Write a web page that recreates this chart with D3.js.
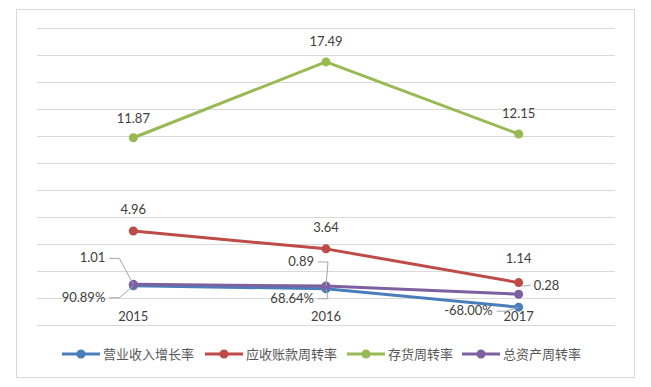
<!DOCTYPE html>
<html>
<head>
<meta charset="utf-8">
<script src="https://cdn.jsdelivr.net/npm/d3@7"></script>
<style>
  body { margin: 0; background: #fff; }
  svg text { font-family: Lato, "Noto Sans", sans-serif; fill: #404040; }
  .legend text { font-family: "Noto Sans CJK SC", sans-serif; fill: #595959; }
</style>
</head>
<body>
<div id="chart"></div>
<script>
// chart data
let years = ["2015", "2016", "2017"];
let seriesNames = ["营业收入增长率", "应收账款周转率", "存货周转率", "总资产周转率"];
let revenueGrowth = [0.9089, 0.6864, -0.68];
let receivableTurnover = [4.96, 3.64, 1.14];
let inventoryTurnover = [11.87, 17.49, 12.15];
let assetTurnover = [1.01, 0.89, 0.28];
let valueLabels = [
    ["90.89%", "68.64%", "-68.00%"],
    ["4.96", "3.64", "1.14"],
    ["11.87", "17.49", "12.15"],
    ["1.01", "0.89", "0.28"]
];
let yTicks = d3.range(-2, 21, 2);

let colors = ["#4a7ebb", "#be4b48", "#98b954", "#7d60a0"];
let allSeries = [revenueGrowth, receivableTurnover, inventoryTurnover, assetTurnover];

let width = 651, height = 387;
let svg = d3.select("#chart").append("svg")
    .attr("width", width)
    .attr("height", height);

// outer frame
svg.append("rect")
    .attr("x", 16.5).attr("y", 9.5)
    .attr("width", 618).attr("height", 368)
    .attr("fill", "#fff")
    .attr("stroke", "#d9d9d9");

let x = d3.scaleBand().domain(years).range([37, 615]);
let y = d3.scaleLinear().domain([-2, 20]).range([325, 28]);
let cx = (d) => x(d) + x.bandwidth() / 2;

// gridlines
svg.append("g")
    .selectAll("line")
    .data(yTicks)
    .enter().append("line")
    .attr("x1", 37).attr("x2", 615)
    .attr("y1", (d) => Math.round(y(d)) + 0.5)
    .attr("y2", (d) => Math.round(y(d)) + 0.5)
    .attr("stroke", "#d9d9d9")
    .attr("stroke-width", 1);

// category labels just under the zero line
svg.append("g")
    .selectAll("text")
    .data(years)
    .enter().append("text")
    .attr("x", (d) => cx(d))
    .attr("y", y(0) + 23)
    .attr("text-anchor", "middle")
    .attr("font-size", 13)
    .text((d) => d);

let line = d3.line()
    .x((d, i) => cx(years[i]))
    .y((d) => y(d));

// draw order like the reference: green, red, blue, purple on top
let order = [2, 1, 0, 3];
order.forEach((s) => {
    let g = svg.append("g");
    g.append("path")
        .datum(allSeries[s])
        .attr("d", line)
        .attr("fill", "none")
        .attr("stroke", colors[s])
        .attr("stroke-width", 3)
        .attr("stroke-linejoin", "round");
    g.selectAll("circle")
        .data(allSeries[s])
        .enter().append("circle")
        .attr("cx", (d, i) => cx(years[i]))
        .attr("cy", (d) => y(d))
        .attr("r", 4.5)
        .attr("fill", colors[s]);
});

// label placement: [dx, dy, anchor, leader?]
let labelPos = [
    [[-28, 16, "end", true], [-12, 14, "end", true], [-26, 8, "end", true]],
    [[0, -17, "middle", false], [0, -17, "middle", false], [0, -20, "middle", false]],
    [[0, -15, "middle", false], [0, -16, "middle", false], [0, -16, "middle", false]],
    [[-28, -22, "end", true], [-12, -20, "end", true], [15, -4, "start", true]]
];

let labels = svg.append("g");
allSeries.forEach((vals, s) => {
    vals.forEach((v, i) => {
        let px = cx(years[i]), py = y(v);
        let p = labelPos[s][i];
        let lx = px + p[0], ly = py + p[1];
        if (p[3]) {
            let path;
            if (p[2] === "end") {
                path = [[lx + 4, ly - 4], [lx + 14, ly - 4], [px, py]];
            } else {
                path = [[px + 3, py - 8], [lx - 3, ly - 5]];
            }
            labels.append("path")
                .attr("d", d3.line()(path))
                .attr("fill", "none")
                .attr("stroke", "#a6a6a6")
                .attr("stroke-width", 1);
        }
        labels.append("text")
            .attr("x", lx)
            .attr("y", ly)
            .attr("text-anchor", p[2])
            .attr("font-size", 13)
            .text(valueLabels[s][i]);
    });
});

// legend
let legendX = [62, 205, 347, 462];
let legend = svg.append("g").attr("class", "legend");
seriesNames.forEach((name, s) => {
    let lg = legend.append("g").attr("transform", "translate(" + legendX[s] + ",354)");
    lg.append("line")
        .attr("x1", 0).attr("x2", 38)
        .attr("stroke", colors[s]).attr("stroke-width", 3);
    lg.append("circle")
        .attr("cx", 19).attr("r", 4.5).attr("fill", colors[s]);
    lg.append("text")
        .attr("x", 41).attr("y", 5)
        .attr("font-size", 13)
        .text(name);
});
</script>
</body>
</html>
